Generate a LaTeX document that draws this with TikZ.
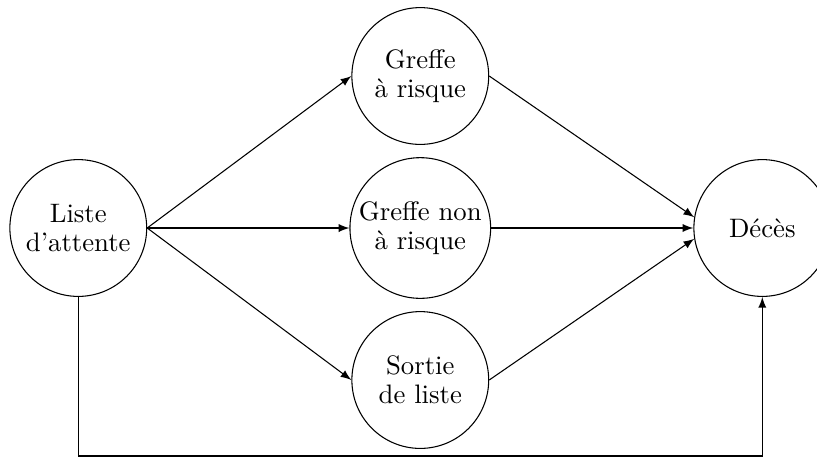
\documentclass[tikz,border=0pt]{standalone}
\usepackage{amsmath}
\usepackage{amssymb}
\usepackage{tikz}
\begin{document}
\begin{tikzpicture}[>=latex, etat/.style={draw, circle, minimum size=1.8cm, inner sep=1pt, align=center, font=\linespread{0.9}\selectfont}]
\useasboundingbox (-1.03,-3.05) rectangle (9.72,3.0);
\node[etat] (liste) at (0,0) {Liste\\d'attente};
\node[etat] (risque) at (4.5,2) {Greffe\\à risque};
\node[etat] (nonrisque) at (4.5,0) {Greffe non\\à risque};
\node[etat] (sortie) at (4.5,-2) {Sortie\\de liste};
\node[etat] (deces) at (9,0) {Décès};
\coordinate (coinG) at (0,-3);
\coordinate (coinD) at (9,-3);
\draw[->] (liste.east) -- (risque.west);
\draw[->] (liste.east) -- (nonrisque.west);
\draw[->] (liste.east) -- (sortie.west);
\draw[->] (risque.east) -- (deces.171);
\draw[->] (nonrisque.east) -- (deces.west);
\draw[->] (sortie.east) -- (deces.189);
\draw[->] (liste.south) -- (coinG) -- (coinD) -- (deces.south);
\end{tikzpicture}
\end{document}
